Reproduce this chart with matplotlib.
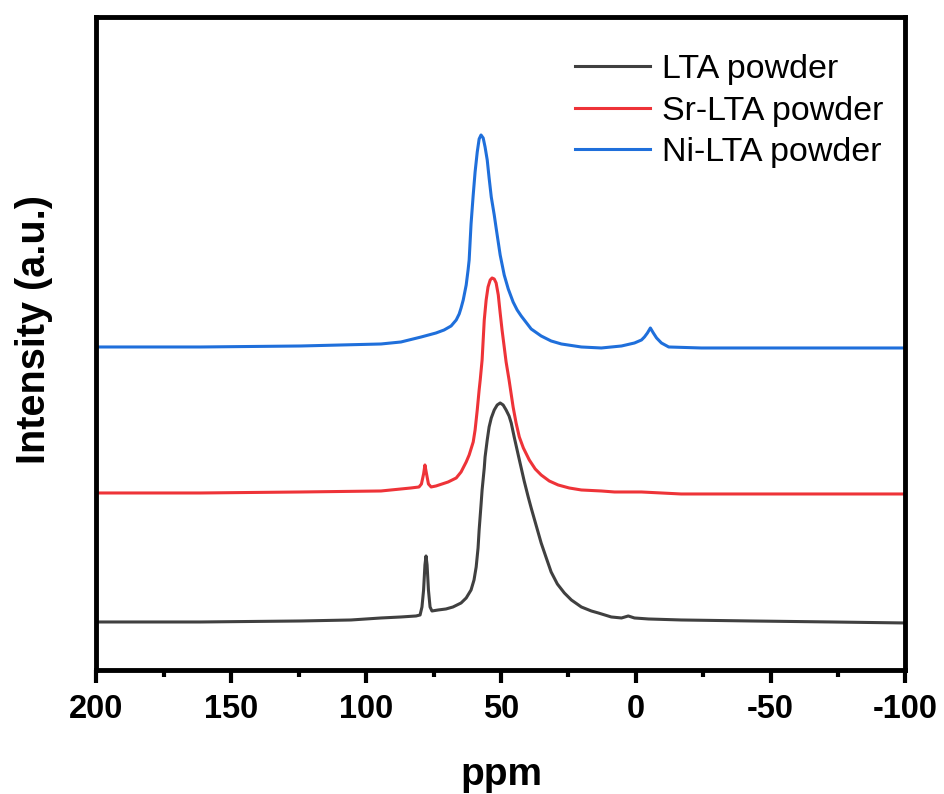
import matplotlib
matplotlib.use("Agg")
import matplotlib.pyplot as plt
from matplotlib.ticker import MultipleLocator

plt.rcParams['font.family'] = ['Liberation Sans', 'DejaVu Sans']
plt.rcParams['axes.unicode_minus'] = False

# spectra (ppm, intensity in a.u.)
ppm_lta = [200, 161.4, 124.2, 105.6, 94.5, 87.1, 81.5, 80.0, 79.3, 78.7,
           78.2, 77.8, 77.4, 76.9, 76.3, 75.6, 73.3, 70.4, 67.8, 64.8,
           62.9, 61.1, 60.0, 59.2, 58.5, 58.1, 57.4, 57.0, 56.2, 55.9,
           55.1, 54.4, 53.6, 52.5, 51.4, 50.3, 49.2, 48.1, 47.0, 46.2,
           45.1, 43.6, 42.5, 41.4, 39.9, 38.8, 36.9, 35.1, 33.2, 31.4,
           29.1, 26.5, 23.9, 20.2, 16.5, 13.9, 9.1, 5.3, 2.8, 0.5,
           -4.7, -16.8, -42.9, -72.7, -100]
int_lta = [48, 48, 49, 50, 52, 53, 54, 55, 63, 80,
           105, 114, 105, 80, 63, 59, 60, 61, 63, 67,
           72, 80, 90, 103, 122, 140, 165, 180, 202, 213,
           230, 243, 252, 260, 265, 267, 265, 260, 254, 247,
           233, 215, 202, 189, 173, 162, 144, 127, 112, 98,
           86, 77, 70, 63, 59, 57, 53, 52, 54, 52,
           51, 50, 49, 48, 47]

ppm_sr = [200, 161.4, 124.2, 94.5, 83.4, 80.4, 79.5, 78.7, 78.2, 77.6,
          76.9, 75.9, 74.1, 69.6, 66.6, 64.8, 62.9, 61.8, 60.3, 59.6,
          58.8, 58.1, 57.7, 57.0, 56.6, 56.2, 55.5, 54.8, 54.0, 53.3,
          52.5, 51.8, 51.0, 50.3, 49.6, 48.8, 48.1, 47.0, 45.5, 44.4,
          43.2, 41.7, 39.5, 37.3, 35.1, 32.1, 28.8, 24.7, 20.2, 12.8,
          7.9, -2.1, -16.8, -61.5, -100]
int_sr = [177, 177, 178, 179, 182, 183, 186, 196, 205, 196,
          186, 183, 184, 188, 192, 198, 208, 215, 228, 240,
          260, 280, 290, 310, 330, 350, 370, 383, 390, 392,
          391, 387, 375, 357, 340, 323, 308, 290, 263, 247,
          233, 222, 210, 201, 195, 189, 185, 182, 180, 179,
          178, 178, 176, 176, 176]

ppm_ni = [200, 161.4, 124.2, 94.5, 87.1, 79.6, 74.1, 71.1, 68.5, 66.6,
          65.5, 64.8, 64.0, 62.9, 62.2, 61.8, 61.1, 60.3, 59.6, 58.8,
          58.1, 57.4, 56.6, 55.9, 55.1, 54.4, 53.6, 52.5, 51.8, 50.3,
          48.8, 47.3, 45.5, 44.0, 42.5, 38.8, 35.1, 31.4, 27.6, 20.2,
          12.8, 5.3, 0.5, -2.1, -3.2, -4.3, -5.4, -6.5, -7.7, -9.5,
          -12.2, -24.3, -61.5, -100]
int_ni = [323, 323, 324, 326, 328, 333, 337, 340, 344, 350,
          356, 362, 370, 385, 400, 410, 446, 475, 498, 518,
          531, 535, 532, 523, 510, 492, 473, 455, 442, 415,
          395, 381, 368, 360, 354, 341, 334, 329, 326, 323,
          322, 324, 327, 330, 333, 337, 342, 337, 332, 327,
          323, 322, 322, 322]

labels = ['LTA powder', 'Sr-LTA powder', 'Ni-LTA powder']
colors = ['#404040', '#ee3338', '#1f6fdb']

fig = plt.figure(figsize=(9.44, 7.94), dpi=100)
ax = fig.add_axes([0.1022, 0.1562, 0.8570, 0.8224])

for x, y, lab, c in zip([ppm_lta, ppm_sr, ppm_ni], [int_lta, int_sr, int_ni],
                        labels, colors):
    ax.plot(x, y, color=c, lw=2.2, label=lab)

ax.set_xlim(200, -100)
ax.set_ylim(0, 653)
ax.xaxis.set_major_locator(MultipleLocator(50))
ax.xaxis.set_minor_locator(MultipleLocator(25))
ax.set_yticks([])
for s in ax.spines.values():
    s.set_linewidth(3.5)
ax.tick_params(axis='x', which='major', direction='out', length=9.5, width=3,
               pad=8, labelsize=23.5)
ax.tick_params(axis='x', which='minor', direction='out', length=5, width=3)
for t in ax.get_xticklabels():
    t.set_fontweight('bold')

ax.set_xlabel('ppm', fontsize=28, fontweight='bold', labelpad=23)
ax.set_ylabel('Intensity (a.u.)', fontsize=28.5, fontweight='bold', labelpad=31)
ax.yaxis.label.set_y(0.522)

leg = ax.legend(loc='upper left', bbox_to_anchor=(0.5915, 0.943), frameon=False,
                fontsize=24.5, borderpad=0, borderaxespad=0, handlelength=2.2,
                handletextpad=0.35, labelspacing=0.31)

fig.savefig('out.png', dpi=100)
